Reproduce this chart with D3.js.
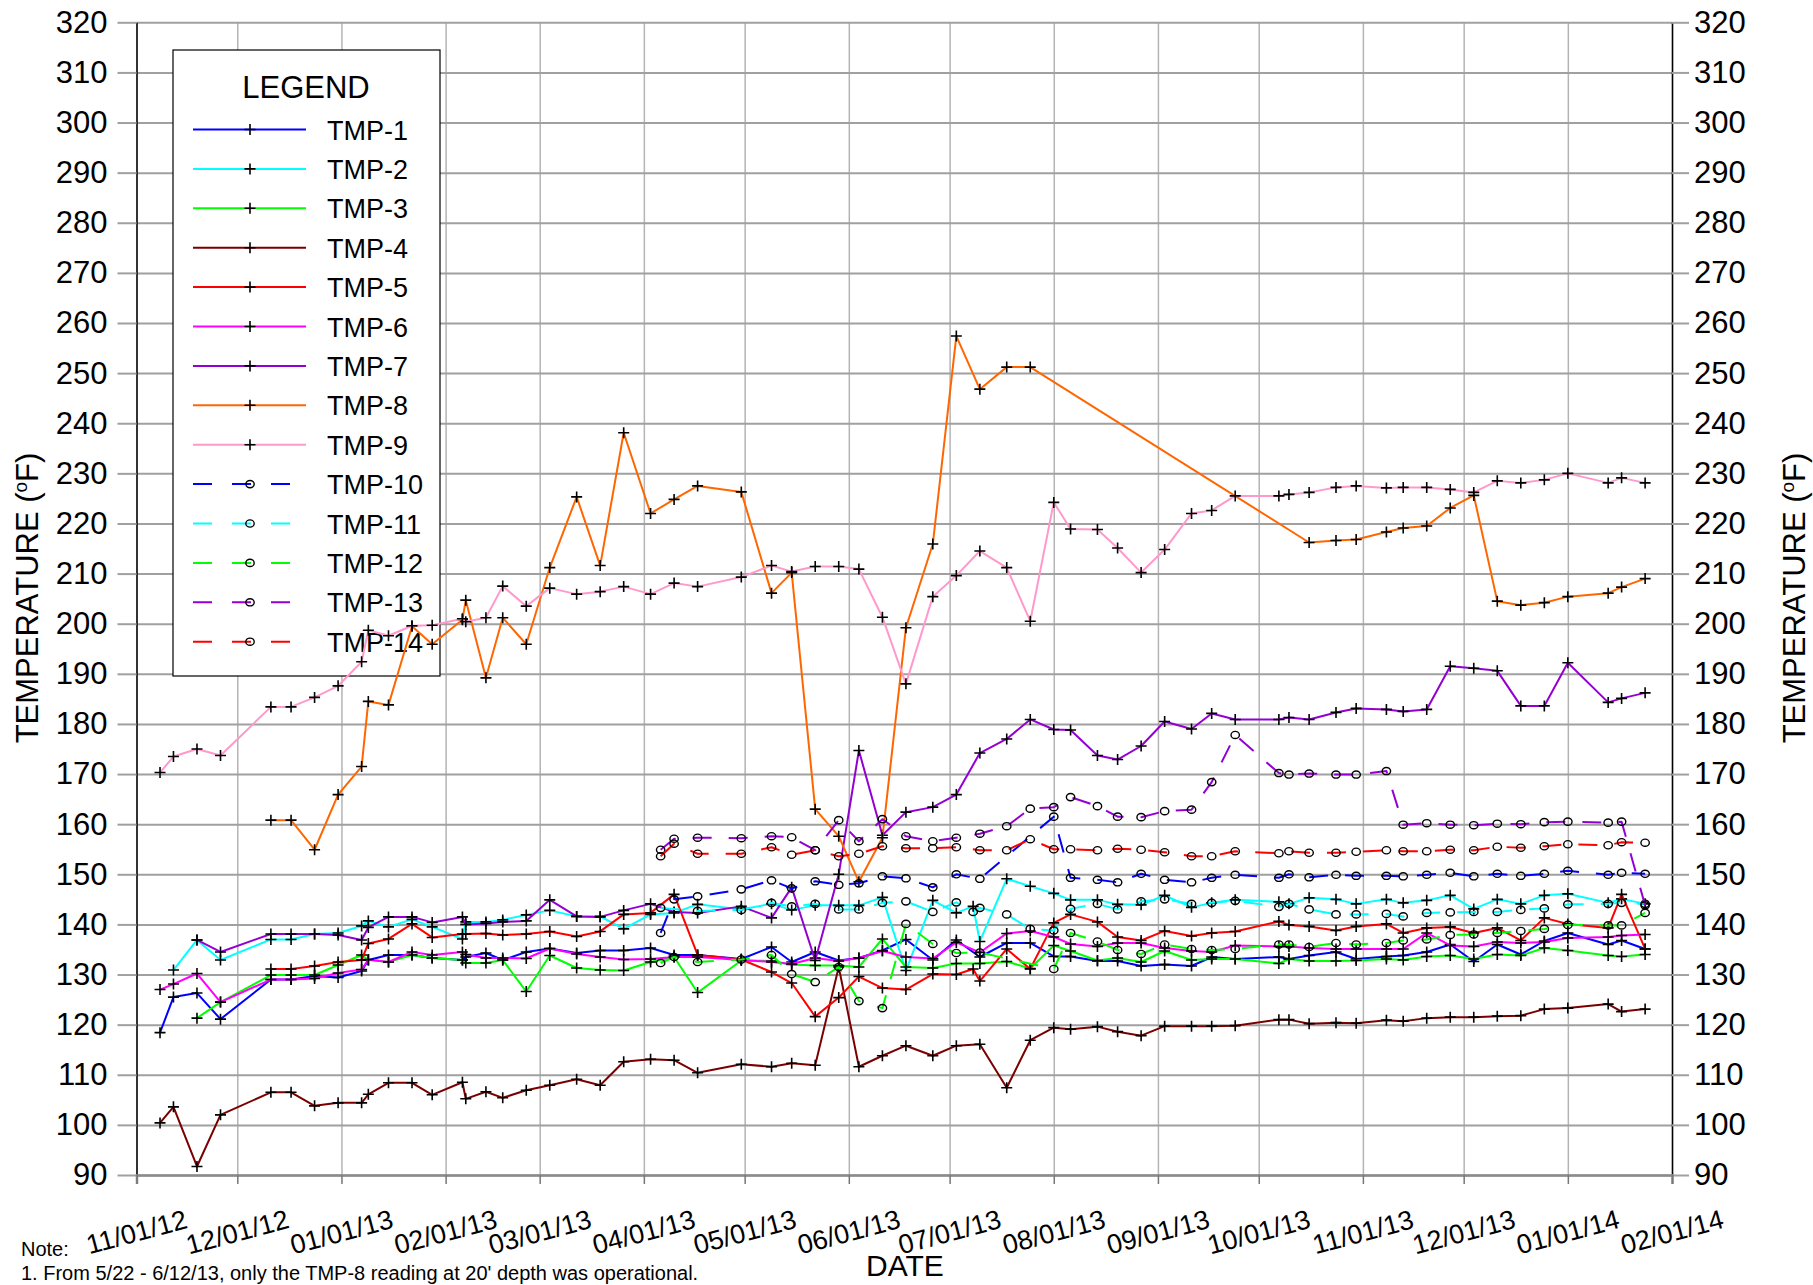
<!DOCTYPE html>
<html>
<head>
<meta charset="utf-8">
<script src="https://cdn.jsdelivr.net/npm/d3@7"></script>
<style>
  body { margin: 0; background: #fff; }
  text { font-family: "Liberation Sans", Arial, sans-serif; fill: #000; }
</style>
</head>
<body>
<div id="chart"></div>
<script>
// sampling dates (m/d/yy)
const dates = [
  "11/08/12", "11/12/12", "11/19/12", "11/26/12", "12/11/12", "12/17/12", "12/24/12", "12/31/12", "01/07/13", "01/09/13",
  "01/15/13", "01/22/13", "01/28/13", "02/06/13", "02/07/13", "02/13/13", "02/18/13", "02/25/13", "03/04/13", "03/12/13",
  "03/19/13", "03/26/13", "04/03/13", "04/06/13", "04/10/13", "04/17/13", "04/30/13", "05/09/13", "05/15/13", "05/22/13",
  "05/29/13", "06/04/13", "06/11/13", "06/18/13", "06/26/13", "07/03/13", "07/08/13", "07/10/13", "07/18/13", "07/25/13",
  "08/01/13", "08/06/13", "08/14/13", "08/20/13", "08/27/13", "09/03/13", "09/11/13", "09/17/13", "09/24/13", "10/07/13",
  "10/10/13", "10/16/13", "10/24/13", "10/30/13", "11/08/13", "11/13/13", "11/20/13", "11/27/13", "12/04/13", "12/11/13",
  "12/18/13", "12/25/13", "01/01/14", "01/13/14", "01/17/14", "01/24/14"
];

// readings in deg F, one per date (null = no reading)
const tmp1 = [
  118.4, 125.5, 126.3, 121.1, 129.0, 129.0, 129.7, 129.4, 130.7, 132.9,
  133.9, 133.9, 133.3, 132.9, 133.5, 134.3, 132.9, 134.5, 135.2, 134.3,
  134.8, 134.8, 135.3, null, 133.9, 133.9, 133.1, 135.5, 132.5, 134.5,
  132.8, 133.3, 134.8, 137.0, 132.9, 136.9, null, 133.5, 136.3, 136.3,
  133.6, 133.6, 132.7, 132.7, 131.7, 132.0, 131.7, 133.5, 133.1, 133.5,
  133.1, 133.8, 134.5, 133.1, 133.6, 133.8, 134.5, 136.0, 132.6, 136.0,
  134.0, 136.7, 138.3, 136.0, 136.8, 135.1
];
const tmp2 = [
  null, 130.9, 136.9, 132.9, 137.0, 137.0, 138.1, 138.3, 139.7, 140.7,
  139.5, 141.0, 139.5, 137.1, 140.5, 140.5, 140.9, 141.9, 142.8, 141.6,
  141.6, 139.1, 142.0, null, 142.3, 144.0, 143.0, 144.1, 142.9, 143.8,
  143.8, 143.8, 145.4, 130.8, 144.8, 142.3, 143.6, 136.6, 149.1, 147.6,
  146.2, 144.9, 144.9, 144.0, 143.9, 145.8, 143.4, 144.3, 144.9, 144.5,
  144.1, 145.3, 145.0, 144.1, 145.0, 144.3, 144.8, 145.8, 143.1, 145.0,
  144.1, 145.8, 146.1, 144.3, 145.1, 144.1
];
const tmp3 = [
  null, null, 121.3, 124.5, 129.9, 129.9, 129.9, 131.9, 133.9, 132.9,
  132.5, 133.9, 133.3, 132.9, 132.3, 132.3, 132.9, 126.6, 133.8, 131.3,
  130.9, 130.8, 132.5, null, 133.5, 126.4, 132.8, 132.7, 132.0, 131.8,
  131.8, 131.5, 137.1, 131.5, 131.3, 132.2, null, 132.2, 132.6, 131.2,
  135.8, 134.7, 132.8, 133.3, 132.5, 134.7, 132.9, 133.1, 133.1, 132.2,
  133.1, 132.7, 132.7, 132.8, 133.1, 132.9, 133.6, 133.8, 133.1, 134.0,
  133.8, 135.3, 134.8, 133.8, 133.6, 134.0
];
const tmp4 = [
  100.4, 103.6, 91.7, 102.0, 106.5, 106.5, 103.8, 104.4, 104.4, 106.1,
  108.4, 108.4, 106.0, 108.5, 105.2, 106.6, 105.4, 106.9, 107.9, 109.1,
  107.9, 112.6, 113.1, null, 112.9, 110.4, 112.1, 111.6, 112.3, 111.9,
  131.5, 111.6, 113.8, 115.8, 113.8, 115.8, null, 116.1, 107.4, 116.9,
  119.4, 119.1, 119.6, 118.6, 117.8, 119.7, 119.7, 119.7, 119.8, 121.0,
  121.0, 120.2, 120.4, 120.3, 120.9, 120.7, 121.3, 121.5, 121.5, 121.7,
  121.8, 123.1, 123.3, 124.1, 122.6, 123.1
];
const tmp5 = [
  null, null, null, null, 131.1, 131.1, 131.7, 132.5, 132.9, 136.2,
  137.1, 140.1, 137.4, 138.1, 138.1, 138.2, 137.9, 138.1, 138.6, 137.6,
  138.6, 142.0, 142.3, null, 146.0, 133.9, 133.0, 130.5, 128.3, 121.6,
  125.4, 129.6, 127.3, 127.0, 130.1, 130.0, 131.1, 128.7, 135.1, 131.1,
  140.3, 142.0, 140.5, 137.5, 136.8, 138.7, 137.7, 138.3, 138.6, 140.6,
  139.9, 139.6, 138.8, 139.6, 140.1, 138.3, 139.3, 139.5, 138.3, 139.3,
  136.8, 141.3, 140.1, 139.3, 146.0, 135.1
];
const tmp6 = [
  127.0, 128.1, 130.2, 124.5, 129.0, 129.0, 129.2, 130.3, 131.0, 133.0,
  132.5, 134.5, 133.9, 134.5, 134.0, 133.3, 133.3, 133.2, 135.2, 134.1,
  133.5, 133.0, 133.1, null, 133.5, 133.5, 132.9, 132.5, 132.1, 133.3,
  132.7, 133.3, 134.7, 133.5, 133.2, 136.4, null, 134.4, 138.2, 138.7,
  137.5, 136.1, 135.6, 136.3, 136.3, 135.3, 134.7, 134.5, 135.8, 135.6,
  135.6, 135.3, 135.1, 135.1, 135.1, 135.1, 138.3, 135.8, 135.6, 136.5,
  136.3, 136.5, 137.3, 137.5, 137.8, 138.0
];
const tmp7 = [
  null, null, 136.9, 134.5, 138.1, 138.1, 138.1, 137.9, 136.9, 139.4,
  141.5, 141.5, 140.4, 141.5, 140.0, 140.2, 140.5, 140.7, 144.9, 141.6,
  141.5, 142.8, 144.1, null, 142.5, 142.3, 143.6, 141.3, 147.4, 132.8,
  150.0, 174.7, 157.8, 162.4, 163.4, 165.9, null, 174.2, 177.0, 180.9,
  178.9, 178.8, 173.7, 172.9, 175.6, 180.5, 179.0, 182.1, 180.9, 180.9,
  181.3, 180.9, 182.3, 183.1, 182.9, 182.5, 182.9, 191.5, 191.1, 190.6,
  183.6, 183.6, 192.2, 184.3, 185.1, 186.2
];
const tmp8 = [
  null, null, null, null, 160.8, 160.8, 154.9, 165.9, 171.5, 184.5,
  183.8, 199.5, 195.9, 200.8, 204.7, 189.2, 201.2, 195.9, 211.2, 225.3,
  211.6, 238.1, 222.0, null, 224.8, 227.5, 226.3, 206.1, 210.2, 163.0,
  157.6, 148.5, 157.3, 199.2, 215.9, 257.4, null, 246.8, 251.2, 251.2,
  null, null, null, null, null, null, null, null, null, null,
  null, 216.2, 216.6, 216.8, 218.3, 219.1, 219.5, 223.1, 225.6, 204.5,
  203.7, 204.2, 205.4, 206.1, 207.3, 209.0
];
const tmp9 = [
  170.3, 173.5, 175.0, 173.7, 183.4, 183.4, 185.3, 187.6, 192.4, 198.7,
  197.6, 199.6, 199.7, 201.0, 200.4, 201.2, 207.5, 203.5, 207.1, 205.9,
  206.4, 207.4, 205.9, null, 208.1, 207.4, 209.3, 211.6, 210.4, 211.4,
  211.4, 210.9, 201.3, 188.0, 205.4, 209.6, null, 214.5, 211.2, 200.5,
  224.2, 218.9, 218.8, 215.1, 210.2, 214.8, 222.0, 222.6, 225.5, 225.5,
  225.8, 226.2, 227.2, 227.5, 227.1, 227.2, 227.2, 226.8, 226.2, 228.5,
  228.1, 228.7, 230.0, 228.1, 229.1, 228.1
];
const tmp10 = [
  null, null, null, null, null, null, null, null, null, null,
  null, null, null, null, null, null, null, null, null, null,
  null, null, null, 138.3, 145.0, 145.6, 147.0, 148.8, 147.2, 148.6,
  147.9, 148.2, 149.6, 149.2, 147.4, 150.0, null, 149.1, null, null,
  161.5, 149.3, 148.9, 148.4, 150.1, 148.9, 148.4, 149.3, 149.9, 149.3,
  150.0, 149.4, 149.9, 149.7, 149.7, 149.6, 149.9, 150.3, 149.6, 150.1,
  149.7, 150.1, 150.7, 149.9, 150.3, 150.1
];
const tmp11 = [
  null, null, null, null, null, null, null, null, null, null,
  null, null, null, null, null, null, null, null, null, null,
  null, null, null, 143.3, null, 142.7, 142.9, 144.3, 143.6, 144.1,
  143.0, 143.0, 144.3, 144.6, 142.5, 144.4, 142.5, 143.3, 142.0, 139.1,
  138.8, 143.1, 144.1, 143.0, 144.6, 145.0, 144.1, 144.3, 144.7, 143.5,
  144.1, 143.0, 142.0, 142.0, 142.1, 141.6, 142.3, 142.4, 142.5, 142.5,
  142.9, 143.2, 144.0, 144.1, 144.3, 144.1
];
const tmp12 = [
  null, null, null, null, null, null, null, null, null, null,
  null, null, null, null, null, null, null, null, null, null,
  null, null, null, 132.3, 133.5, 132.5, 133.0, 133.9, 130.1, 128.5,
  131.5, 124.7, 123.3, 140.1, 136.1, 134.3, null, 134.4, null, null,
  131.1, 138.3, 136.6, 134.9, 134.1, 136.0, 135.1, 134.9, 135.1, 136.0,
  136.0, 135.5, 136.3, 136.0, 136.3, 136.8, 137.0, 137.9, 138.0, 138.3,
  138.7, 139.1, 139.9, 139.8, 139.8, 142.3
];
const tmp13 = [
  null, null, null, null, null, null, null, null, null, null,
  null, null, null, null, null, null, null, null, null, null,
  null, null, null, 154.9, 157.1, 157.3, 157.2, 157.6, 157.4, 154.8,
  160.8, 156.6, 161.0, 157.6, 156.6, 157.3, null, 158.1, 159.6, 163.1,
  163.4, 165.4, 163.6, 161.5, 161.4, 162.6, 162.9, 168.4, 177.8, 170.2,
  169.9, 170.1, 169.9, 169.9, 170.6, 159.9, 160.2, 159.9, 159.8, 160.1,
  160.0, 160.4, 160.5, 160.3, 160.5, 143.8
];
const tmp14 = [
  null, null, null, null, null, null, null, null, null, null,
  null, null, null, null, null, null, null, null, null, null,
  null, null, null, 153.6, 156.1, 154.1, 154.1, 155.4, 153.9, 154.8,
  153.6, 154.1, 155.6, 155.2, 155.2, 155.4, null, 154.8, 154.8, 157.0,
  155.0, 155.0, 154.8, 155.1, 154.9, 154.4, 153.6, 153.6, 154.6, 154.2,
  154.6, 154.3, 154.3, 154.5, 154.8, 154.6, 154.6, 154.9, 154.8, 155.5,
  155.3, 155.6, 156.0, 155.8, 156.4, 156.3
];

const seriesNames = ['TMP-1', 'TMP-2', 'TMP-3', 'TMP-4', 'TMP-5', 'TMP-6', 'TMP-7',
  'TMP-8', 'TMP-9', 'TMP-10', 'TMP-11', 'TMP-12', 'TMP-13', 'TMP-14'];
const seriesValues = [tmp1, tmp2, tmp3, tmp4, tmp5, tmp6, tmp7, tmp8, tmp9, tmp10, tmp11, tmp12, tmp13, tmp14];
const seriesColors = ['#0000ff', '#00ffff', '#00ff00', '#7a0000', '#ff0000', '#ff00ff', '#9400d3',
  '#ff6600', '#ff99cc', '#0000ff', '#00ffff', '#00ff00', '#9400d3', '#ff0000'];
const dashedSeries = ['TMP-10', 'TMP-11', 'TMP-12', 'TMP-13', 'TMP-14'];

const yTicks = d3.range(90, 321, 10);
const noteLines = ['Note:', "1. From 5/22 - 6/12/13, only the TMP-8 reading at 20' depth was operational."];

const W = 1813, H = 1285;
const plotLeft = 136.5, plotRight = 1672, plotTop = 22.3, plotBottom = 1175;

const svg = d3.select('#chart').append('svg')
    .attr('width', W)
    .attr('height', H);

svg.append('rect').attr('width', W).attr('height', H).attr('fill', '#fff');

const parse = d3.timeParse('%m/%d/%y');
const x = d3.scaleTime()
    .domain([new Date(2012, 10, 1), new Date(2014, 1, 1)])
    .range([plotLeft, plotRight]);
const y = d3.scaleLinear()
    .domain([90, 320])
    .range([plotBottom, plotTop]);
const months = d3.timeMonth.range(new Date(2012, 10, 1), new Date(2014, 1, 2));

// grid
svg.append('g')
    .attr('transform', `translate(0,${plotBottom})`)
    .call(d3.axisBottom(x).tickValues(months).tickSize(-(plotBottom - plotTop)).tickFormat(''))
    .call(g => g.select('.domain').remove())
    .call(g => g.selectAll('line').attr('stroke', '#b4b4b4').attr('stroke-width', 1.5));

svg.append('g')
    .attr('transform', `translate(${plotLeft},0)`)
    .call(d3.axisLeft(y).tickValues(yTicks).tickSize(-(plotRight - plotLeft)).tickFormat(''))
    .call(g => g.select('.domain').remove())
    .call(g => g.selectAll('line').attr('stroke', '#a0a0a0').attr('stroke-width', 2));

// axes
const yLeft = svg.append('g')
    .attr('transform', `translate(${plotLeft},0)`)
    .call(d3.axisLeft(y).tickValues(yTicks).tickSize(19).tickSizeOuter(0).tickPadding(10));
const yRight = svg.append('g')
    .attr('transform', `translate(${plotRight},0)`)
    .call(d3.axisRight(y).tickValues(yTicks).tickSize(17).tickSizeOuter(0).tickPadding(5));

[yLeft, yRight].forEach(g => {
    g.select('.domain').attr('stroke', '#000').attr('stroke-width', 1.5);
    g.selectAll('.tick line').attr('stroke', '#a0a0a0').attr('stroke-width', 2);
    g.selectAll('.tick text')
        .style('font-family', '"Liberation Sans", Arial, sans-serif')
        .attr('font-size', 31)
        .attr('fill', '#000');
});

const xAxis = svg.append('g')
    .attr('transform', `translate(0,${plotBottom})`)
    .call(d3.axisBottom(x).tickValues(months).tickSize(9).tickFormat(d3.timeFormat('%m/%d/%y')));
xAxis.select('.domain').attr('stroke', '#8c8c8c').attr('stroke-width', 2.5);
xAxis.selectAll('.tick line').attr('stroke', '#777').attr('stroke-width', 1.5);
xAxis.selectAll('.tick text')
    .style('font-family', '"Liberation Sans", Arial, sans-serif')
    .attr('font-size', 27)
    .attr('fill', '#000')
    .attr('y', 0)
    .attr('dy', 0)
    .attr('text-anchor', 'middle')
    .attr('transform', 'translate(2,66) rotate(-15)');

// axis titles
function tempTitle(tx) {
    const t = svg.append('text')
        .attr('transform', `translate(${tx},598) rotate(-90)`)
        .attr('text-anchor', 'middle')
        .attr('font-size', 31);
    t.append('tspan').text('TEMPERATURE (');
    t.append('tspan').attr('font-size', 19).attr('dy', -11).text('o');
    t.append('tspan').attr('dy', 11).text('F)');
}
tempTitle(38);
tempTitle(1805);

svg.append('text')
    .attr('x', 905)
    .attr('y', 1276)
    .attr('text-anchor', 'middle')
    .attr('font-size', 30)
    .text('DATE');

svg.selectAll('text.note')
    .data(noteLines)
    .join('text')
    .attr('class', 'note')
    .attr('x', 21)
    .attr('y', (d, i) => 1256 + i * 24)
    .attr('font-size', 20)
    .text(d => d);

// legend (sits under the data lines)
const legend = svg.append('g');
legend.append('rect')
    .attr('x', 173).attr('y', 50)
    .attr('width', 267).attr('height', 626)
    .attr('fill', '#fff')
    .attr('stroke', '#000')
    .attr('stroke-width', 1.2);
legend.append('text')
    .attr('x', 306).attr('y', 98)
    .attr('text-anchor', 'middle')
    .attr('font-size', 31)
    .text('LEGEND');

const crossPath = 'M-5.5,0H5.5M0,-5.5V5.5';

seriesNames.forEach((name, i) => {
    const cy = 129.5 + i * 39.4;
    const dashed = dashedSeries.includes(name);
    legend.append('line')
        .attr('x1', 193).attr('x2', dashed ? 290 : 306)
        .attr('y1', cy).attr('y2', cy)
        .attr('stroke', seriesColors[i])
        .attr('stroke-width', 2)
        .attr('stroke-dasharray', dashed ? '19,20' : null);
    if (dashed) {
        legend.append('ellipse')
            .attr('cx', 250).attr('cy', cy).attr('rx', 4.2).attr('ry', 3.6)
            .attr('fill', 'none').attr('stroke', '#000').attr('stroke-width', 1.4);
    } else {
        legend.append('path')
            .attr('d', crossPath)
            .attr('transform', `translate(250,${cy})`)
            .attr('stroke', '#000').attr('stroke-width', 1.6);
    }
    legend.append('text')
        .attr('x', 327).attr('y', cy + 10)
        .attr('font-size', 27)
        .text(name);
});

// data
const line = d3.line()
    .x(d => x(d.date))
    .y(d => y(d.value));

seriesNames.forEach((name, i) => {
    const pts = dates
        .map((d, j) => ({ date: parse(d), value: seriesValues[i][j] }))
        .filter(p => p.value !== null);
    const dashed = dashedSeries.includes(name);
    const g = svg.append('g').attr('class', 'series');

    g.append('path')
        .datum(pts)
        .attr('d', line)
        .attr('fill', 'none')
        .attr('stroke', seriesColors[i])
        .attr('stroke-width', 2)
        .attr('stroke-linejoin', 'round')
        .attr('stroke-dasharray', dashed ? '19,17' : null);

    if (dashed) {
        g.selectAll('ellipse')
            .data(pts)
            .join('ellipse')
            .attr('cx', d => x(d.date))
            .attr('cy', d => y(d.value))
            .attr('rx', 4.2).attr('ry', 3.6)
            .attr('fill', 'none')
            .attr('stroke', '#000')
            .attr('stroke-width', 1.4);
    } else {
        g.selectAll('path.mark')
            .data(pts)
            .join('path')
            .attr('class', 'mark')
            .attr('d', crossPath)
            .attr('transform', d => `translate(${x(d.date)},${y(d.value)})`)
            .attr('stroke', '#000')
            .attr('stroke-width', 1.6);
    }
});
</script>
</body>
</html>
